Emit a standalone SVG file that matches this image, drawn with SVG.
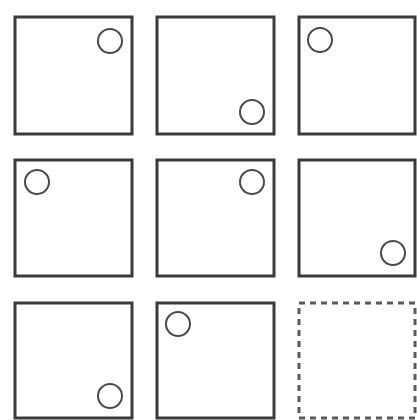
<svg xmlns="http://www.w3.org/2000/svg" width="417" height="420" viewBox="0 0 417 420">
<style>
.box{fill:#fff;stroke:#3a3a3a;stroke-width:3}
.dash{fill:#fff;stroke:#5a5a5a;stroke-width:3;stroke-dasharray:6 5}
.dot{fill:none;stroke:#4a4a4a;stroke-width:2}
</style>
<rect width="417" height="420" fill="#fff"/>
<g id="cell1"><rect class="box" x="15" y="17" width="117" height="117"/><circle class="dot" cx="110" cy="41" r="12"/></g>
<g id="cell2"><rect class="box" x="157" y="17" width="117" height="117"/><circle class="dot" cx="252" cy="112" r="12"/></g>
<g id="cell3"><rect class="box" x="299" y="17" width="116" height="117"/><circle class="dot" cx="320" cy="40" r="12"/></g>
<g id="cell4"><rect class="box" x="15" y="160" width="117" height="116"/><circle class="dot" cx="37" cy="182" r="12"/></g>
<g id="cell5"><rect class="box" x="157" y="160" width="117" height="116"/><circle class="dot" cx="252" cy="182" r="12"/></g>
<g id="cell6"><rect class="box" x="299" y="160" width="116" height="116"/><circle class="dot" cx="393" cy="253" r="12"/></g>
<g id="cell7"><rect class="box" x="15" y="303" width="117" height="115"/><circle class="dot" cx="110" cy="396" r="12"/></g>
<g id="cell8"><rect class="box" x="157" y="303" width="117" height="115"/><circle class="dot" cx="178" cy="324" r="12"/></g>
<g id="cell9"><rect class="dash" x="299" y="303" width="116" height="115"/></g>
<g id="connectors"/>
</svg>
